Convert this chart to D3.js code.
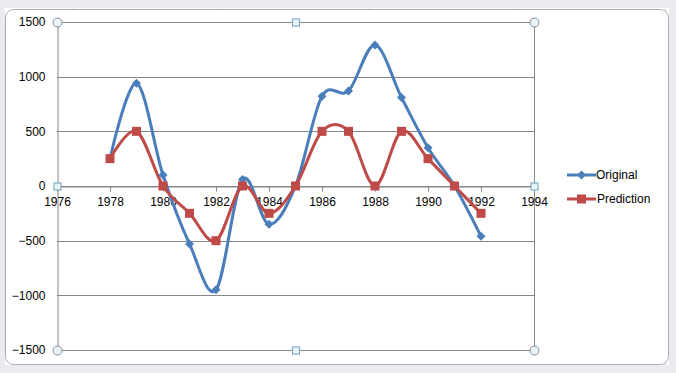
<!DOCTYPE html>
<html>
<head>
<meta charset="utf-8">
<style>
  body { margin: 0; background: #fff; }
  svg { display: block; font-family: "Liberation Sans", Arial, sans-serif; }
</style>
</head>
<body>
<svg></svg>
<script src="https://d3js.org/d3.v7.min.js"></script>
<script>

let width = 676,
    height = 373;

let years = [1978, 1979, 1980, 1981, 1982, 1983, 1984, 1985, 1986, 1987, 1988, 1989, 1990, 1991, 1992];
let original = [250, 940, 100, -530, -950, 60, -350, 0, 820, 870, 1290, 810, 350, 0, -460];
let prediction = [250, 500, 0, -250, -500, 0, -250, 0, 500, 500, 0, 500, 250, 0, -250];
let xTicks = [1976, 1978, 1980, 1982, 1984, 1986, 1988, 1990, 1992, 1994];
let yTicks = [-1500, -1000, -500, 0, 500, 1000, 1500];

let svg = d3.select("svg")
    .attr("width", width)
    .attr("height", height);

// spreadsheet behind the chart
svg.append("rect").attr("width", width).attr("height", height).attr("fill", "#fff");
let sheet = svg.append("g").attr("stroke", "#dadcdd").attr("stroke-width", 1);
[73, 221, 369, 517, 665].forEach(x => sheet.append("line").attr("x1", x + .5).attr("x2", x + .5).attr("y1", 0).attr("y2", height));
svg.append("rect").attr("x", 0).attr("y", 0).attr("width", width).attr("height", 8).attr("fill", "#e9ebee");
svg.append("rect").attr("x", 0).attr("y", 365).attr("width", width).attr("height", 8).attr("fill", "#e9ebee");
svg.append("rect").attr("x", 0).attr("y", 0).attr("width", 5).attr("height", height).attr("fill", "#e9ebee");
svg.append("rect").attr("x", 669).attr("y", 0).attr("width", 7).attr("height", height).attr("fill", "#e9ebee");

// chart frame
svg.append("rect")
    .attr("x", 5.5).attr("y", 9.5)
    .attr("width", 663).attr("height", 355)
    .attr("rx", 8)
    .attr("fill", "#fff")
    .attr("stroke", "#a8acb2");

let x = d3.scaleLinear().domain([1976, 1994]).range([57, 534]);
let y = d3.scaleLinear().domain([-1500, 1500]).range([350, 22]);

// gridlines
svg.append("g")
  .selectAll("line")
  .data(yTicks)
  .enter()
  .append("line")
    .attr("x1", x(1976)).attr("x2", x(1994))
    .attr("y1", d => Math.round(y(d)) + .5).attr("y2", d => Math.round(y(d)) + .5)
    .attr("stroke", "#868686");

// y axis
let yAxis = svg.append("g")
    .attr("transform", "translate(" + (x(1976) + .5) + ",0)")
    .call(d3.axisLeft(y).tickValues(yTicks).tickSize(0).tickPadding(12).tickFormat(d3.format("d")));
yAxis.select(".domain").attr("stroke", "#868686");
yAxis.selectAll("text").attr("font-size", 12).attr("fill", "#000");

// right border of plot area
svg.append("line")
    .attr("x1", x(1994) + .5).attr("x2", x(1994) + .5)
    .attr("y1", y(1500)).attr("y2", y(-1500))
    .attr("stroke", "#868686");

// x axis at zero
let xAxis = svg.append("g")
    .attr("transform", "translate(0," + (Math.round(y(0)) + .5) + ")")
    .call(d3.axisBottom(x).tickValues(xTicks).tickSize(5).tickPadding(6).tickFormat(d3.format("d")));
xAxis.select(".domain").attr("stroke", "#868686");
xAxis.selectAll(".tick line").attr("stroke", "#868686");
xAxis.selectAll("text").attr("font-size", 12).attr("fill", "#000");

let blue = "#4a7ebb",
    red = "#be4b48";

let line = d3.line()
    .x(d => x(d[0]))
    .y(d => y(d[1]))
    .curve(d3.curveCardinal.tension(0));

let origPts = years.map((d, i) => [d, original[i]]);
let predPts = years.map((d, i) => [d, prediction[i]]);

svg.append("path")
    .attr("d", line(origPts))
    .attr("fill", "none").attr("stroke", blue).attr("stroke-width", 3);

svg.append("path")
    .attr("d", line(predPts))
    .attr("fill", "none").attr("stroke", red).attr("stroke-width", 3);

let diamond = (cx, cy, r) => "M" + cx + "," + (cy - r) + "L" + (cx + r) + "," + cy + "L" + cx + "," + (cy + r) + "L" + (cx - r) + "," + cy + "Z";

svg.append("g")
  .selectAll("path")
  .data(origPts)
  .enter()
  .append("path")
    .attr("d", d => diamond(x(d[0]), y(d[1]), 4.5))
    .attr("fill", blue);

svg.append("g")
  .selectAll("rect")
  .data(predPts)
  .enter()
  .append("rect")
    .attr("x", d => x(d[0]) - 4.5).attr("y", d => y(d[1]) - 4.5)
    .attr("width", 9).attr("height", 9)
    .attr("fill", red);

// legend
let legend = svg.append("g").attr("font-size", 12);
legend.append("line").attr("x1", 567).attr("x2", 596).attr("y1", 175).attr("y2", 175).attr("stroke", blue).attr("stroke-width", 3);
legend.append("path").attr("d", diamond(581.5, 175, 4.5)).attr("fill", blue);
legend.append("text").attr("x", 596).attr("y", 179).text("Original");
legend.append("line").attr("x1", 567).attr("x2", 596).attr("y1", 199).attr("y2", 199).attr("stroke", red).attr("stroke-width", 3);
legend.append("rect").attr("x", 577).attr("y", 194.5).attr("width", 9).attr("height", 9).attr("fill", red);
legend.append("text").attr("x", 597).attr("y", 203).text("Prediction");

// selection handles on the plot area
let handles = svg.append("g").attr("stroke", "#7f8b96").attr("fill", "#eaf4f8");
[[1976, 1500], [1994, 1500], [1976, -1500], [1994, -1500]].forEach(p => {
  handles.append("circle").attr("cx", x(p[0]) + .5).attr("cy", y(p[1]) + .5).attr("r", 4.5);
});
[[1985, 1500], [1985, -1500], [1976, 0], [1994, 0]].forEach(p => {
  handles.append("rect").attr("x", x(p[0]) - 3).attr("y", Math.round(y(p[1])) - 3).attr("width", 7).attr("height", 7).attr("stroke", "#6ea0c0");
});

</script>
</body>
</html>
